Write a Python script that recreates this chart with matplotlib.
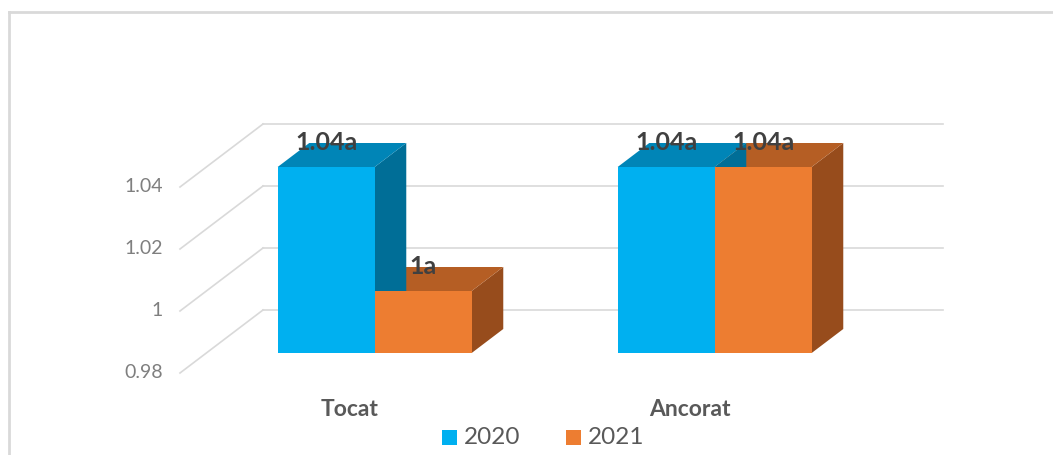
import matplotlib.pyplot as plt
from matplotlib.patches import Polygon, Rectangle

plt.rcParams['font.family'] = ['Lato', 'DejaVu Sans']

# data
categories = ['Tocat', 'Ancorat']
series = ['2020', '2021']
values_2020 = [1.04, 1.04]
values_2021 = [1.00, 1.04]
labels_2020 = ['1.04a', '1.04a']
labels_2021 = ['1a', '1.04a']
yticks = [0.98, 1.00, 1.02, 1.04]
ytick_labels = ['0.98', '1', '1.02', '1.04']

front_cols = ['#00B0F0', '#ED7D31']
top_cols = ['#0085B7', '#B55E24']
side_cols = ['#006E97', '#974C1C']

W, H = 1053, 455
fig = plt.figure(figsize=(W / 100, H / 100), dpi=100)

# front plane of the 3d box, in pixels
fx0, fx1 = 180, 860
fy0, fy1 = 373, 187   # 0.98 and 1.04
ax = fig.add_axes([fx0 / W, (H - fy0) / H, (fx1 - fx0) / W, (fy0 - fy1) / H])
ax.set_xlim(-0.5, 1.5)
ax.set_ylim(0.98, 1.04)
ax.axis('off')

# depth of the whole box in data units (83 px right, 63 px up)
xpp = 2.0 / (fx1 - fx0)
ypp = 0.06 / (fy0 - fy1)
DX, DY = 83 * xpp, 63 * ypp

# back wall gridlines + depth lines on the left wall
for t, lab in zip(yticks, ytick_labels):
    ax.plot([-0.5 + DX, 1.5 + DX], [t + DY, t + DY], color='#D9D9D9', lw=1.2,
            clip_on=False, zorder=1)
    ax.plot([-0.5, -0.5 + DX], [t, t + DY], color='#D9D9D9', lw=1.2,
            clip_on=False, zorder=1)
    ax.text(-0.5 - 17 * xpp, t, lab, ha='right', va='center', fontsize=14,
            color='#7F7F7F')

bw = 97 * xpp
d0, d1 = 20 / 63, 44 / 63
base = 0.98


def bar3d(xl, v, k):
    ox0, oy0 = d0 * DX, d0 * DY
    ox1, oy1 = d1 * DX, d1 * DY
    xr = xl + bw
    # side
    ax.add_patch(Polygon([(xr + ox0, base + oy0), (xr + ox1, base + oy1),
                          (xr + ox1, v + oy1), (xr + ox0, v + oy0)],
                         closed=True, fc=side_cols[k], ec='none', clip_on=False, zorder=3))
    # top
    ax.add_patch(Polygon([(xl + ox0, v + oy0), (xr + ox0, v + oy0),
                          (xr + ox1, v + oy1), (xl + ox1, v + oy1)],
                         closed=True, fc=top_cols[k], ec='none', clip_on=False, zorder=3))
    # front
    ax.add_patch(Rectangle((xl + ox0, base + oy0), bw, v - base, fc=front_cols[k],
                           ec='none', clip_on=False, zorder=4))


for i in range(len(categories)):
    c = i - 0.005
    # right bar first so the left bar's side is hidden correctly
    bar3d(c, values_2021[i], 1)
    bar3d(c - bw, values_2020[i], 0)
    for k, (v, lab) in enumerate([(values_2020[i], labels_2020[i]),
                                  (values_2021[i], labels_2021[i])]):
        xl = c - bw + k * bw
        ax.text(xl + bw / 2 + d0 * DX, v + d1 * DY, lab, ha='center', va='center',
                fontsize=18, fontweight='bold', color='#404040', zorder=6)
    ax.text(i, 0.98 - 36 * ypp, categories[i], ha='center', va='center',
            fontsize=16.5, fontweight='bold', color='#595959')

# legend
ly = 1 - 437 / H
for k, (x0, name) in enumerate([(442, series[0]), (566, series[1])]):
    fig.patches.append(Rectangle((x0 / W, ly - 8 / H), 15 / W, 15 / H, fc=front_cols[k],
                                 ec='none', transform=fig.transFigure))
    fig.text((x0 + 22) / W, ly, name, ha='left', va='center', fontsize=17.5,
             color='#595959')

# chart border (only top and left visible)
fig.add_artist(plt.Line2D([9 / W, 1], [1 - 12 / H, 1 - 12 / H], color='#D9D9D9', lw=2,
                          transform=fig.transFigure))
fig.add_artist(plt.Line2D([9 / W, 9 / W], [0, 1 - 12 / H], color='#D9D9D9', lw=2,
                          transform=fig.transFigure))

fig.savefig('out.png', dpi=100)
